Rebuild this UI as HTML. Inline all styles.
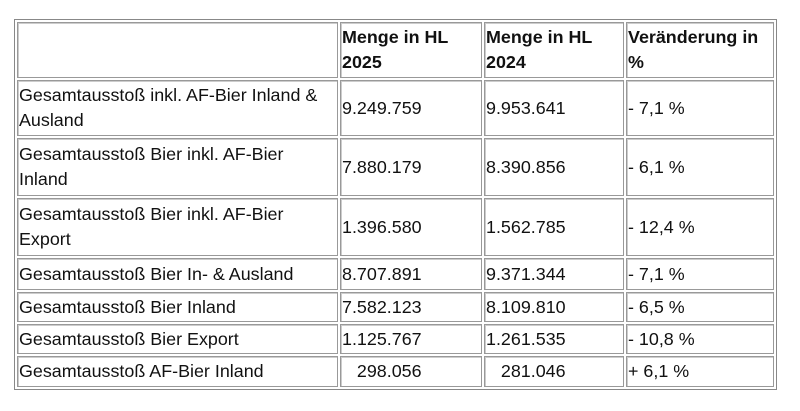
<!DOCTYPE html>
<html><head><style>
body{margin:0;width:800px;height:411px;background:#fff;font-family:"Liberation Sans",Arial,sans-serif;font-size:17.9px;color:#111;position:relative;overflow:hidden}
.t{position:absolute;left:14px;top:19px;width:763px;height:371px;border:1px solid #888;box-sizing:border-box}
.c{position:absolute;border:1px solid #999;box-sizing:border-box;display:flex;align-items:center;padding-left:1px;line-height:25px;box-shadow:inset 1px 1px 0 #ccc;white-space:nowrap}
</style></head><body>
<div class="t"></div>
<div id="g"></div>
<script>
var cols=[16,339,483,625,775];
var rows=[21,79,137,197,257,291,323,355,388];
var d=[
["","<b>Menge in HL<br>2025</b>","<b>Menge in HL<br>2024</b>","<b>Veränderung in<br>%</b>"],
["Gesamtausstoß inkl. AF-Bier Inland &amp;<br>Ausland","9.249.759","9.953.641","- 7,1 %"],
["Gesamtausstoß Bier inkl. AF-Bier<br>Inland","7.880.179","8.390.856","- 6,1 %"],
["Gesamtausstoß Bier inkl. AF-Bier<br>Export","1.396.580","1.562.785","- 12,4 %"],
["Gesamtausstoß Bier In- &amp; Ausland","8.707.891","9.371.344","- 7,1 %"],
["Gesamtausstoß Bier Inland","7.582.123","8.109.810","- 6,5 %"],
["Gesamtausstoß Bier Export","1.125.767","1.261.535","- 10,8 %"],
["Gesamtausstoß AF-Bier Inland","&nbsp;&nbsp;&nbsp;298.056","&nbsp;&nbsp;&nbsp;281.046","+ 6,1 %"]];
var h="";
for(var r=0;r<8;r++)for(var c=0;c<4;c++){
h+='<div class="c" style="left:'+(cols[c]+1)+'px;top:'+(rows[r]+1)+'px;width:'+(cols[c+1]-cols[c]-2)+'px;height:'+(rows[r+1]-rows[r]-2)+'px">'+'<span>'+d[r][c]+'</span></div>';}
document.getElementById('g').innerHTML=h;
</script>
</body></html>
